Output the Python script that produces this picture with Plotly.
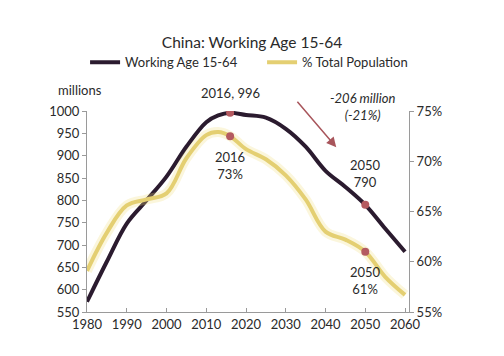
import plotly.graph_objects as go

years_work = [1980, 1985, 1990, 1995, 2000, 2005, 2010, 2013, 2016, 2020, 2025, 2030, 2035, 2040, 2045, 2050, 2055, 2060]
working_age = [573, 663, 748, 800, 853, 920, 975, 990, 996, 991, 985, 960, 920, 866, 830, 790, 737, 685]

years_pct = [1980, 1985, 1990, 1995, 2000, 2005, 2010, 2013, 2016, 2020, 2025, 2030, 2035, 2040, 2045, 2050, 2055, 2060]
pct_total = [59.1, 62.9, 65.6, 66.2, 66.8, 70.3, 72.6, 72.9, 72.5, 71.2, 70.2, 68.6, 66.2, 63.0, 62.2, 61.0, 58.5, 56.7]

highlight_years = [2016, 2050]

title = "China: Working Age 15-64"
name_work = "Working Age 15-64"
name_pct = "% Total Population"

DARK = "#2b1b2f"
YEL = "#e4cf72"
DOT = "#b45a60"
TXT = "#2a2a2a"
AX = "#9a9a9a"
FONT = "Lato"

fig = go.Figure()

# glow behind yellow line
fig.add_trace(go.Scatter(x=years_pct, y=pct_total, yaxis="y2", mode="lines",
                         line=dict(color="rgba(240,222,130,0.28)", width=10, shape="spline", smoothing=1.0),
                         showlegend=False, hoverinfo="skip"))
fig.add_trace(go.Scatter(x=years_pct, y=pct_total, yaxis="y2", mode="lines", name=name_pct,
                         line=dict(color=YEL, width=4, shape="spline", smoothing=1.0)))
fig.add_trace(go.Scatter(x=years_work, y=working_age, mode="lines", name=name_work,
                         line=dict(color=DARK, width=4, shape="spline", smoothing=1.0)))

hw = [working_age[years_work.index(y)] for y in highlight_years]
hp = [pct_total[years_pct.index(y)] for y in highlight_years]
fig.add_trace(go.Scatter(x=highlight_years, y=hw, mode="markers", showlegend=False,
                         marker=dict(color=DOT, size=8)))
fig.add_trace(go.Scatter(x=highlight_years, y=hp, yaxis="y2", mode="markers", showlegend=False,
                         marker=dict(color=DOT, size=8)))

fig.update_layout(
    width=504, height=356,
    margin=dict(l=87, r=95, t=111, b=44),
    paper_bgcolor="white", plot_bgcolor="white",
    font=dict(family=FONT, size=13, color=TXT),
    title=dict(text=title, x=0.5, xref="container", xanchor="center",
               y=1 - 43 / 356, yref="container", yanchor="middle",
               font=dict(family=FONT, size=15.5, color=TXT)),
    legend=dict(orientation="h", x=-0.006, xref="paper", xanchor="left",
                y=(311.7 - 62) / 201, yref="paper", yanchor="middle",
                font=dict(family=FONT, size=13, color=TXT),
                traceorder="reversed", itemwidth=30,
                entrywidth=132, entrywidthmode="pixels"),
    showlegend=True,
    xaxis=dict(range=[1980, 2061], tickvals=list(range(1980, 2061, 10)),
               showgrid=False, zeroline=False, showline=True, linecolor=AX, linewidth=1,
               ticks="inside", ticklen=4, tickcolor=AX, tickfont=dict(size=13, color=TXT)),
    yaxis=dict(range=[550, 1000], dtick=50, showgrid=False, zeroline=False,
               showline=True, linecolor=AX, linewidth=1, ticks="outside", ticklen=4,
               tickcolor=AX, tickfont=dict(size=13, color=TXT)),
    yaxis2=dict(range=[55, 75], dtick=5, ticksuffix="%", overlaying="y", side="right",
                showgrid=False, zeroline=False, showline=True, linecolor=AX, linewidth=1,
                ticks="outside", ticklen=4, tickcolor=AX, tickfont=dict(size=13, color=TXT)),
)

anns = [
    dict(x=2016, y=996, xref="x", yref="y", text="2016, 996", showarrow=False, yshift=20),
    dict(x=2016, y=72.5, xref="x", yref="y2", text="2016<br>73%", showarrow=False, yshift=-29),
    dict(x=2050, y=790, xref="x", yref="y", text="2050<br>790", showarrow=False, yshift=31),
    dict(x=2050, y=61.0, xref="x", yref="y2", text="2050<br>61%", showarrow=False, yshift=-29),
    dict(x=2049.3, y=1000, xref="x", yref="y", text="<i>-206 million<br>(-21%)</i>",
         showarrow=False, yshift=5),
    dict(x=-0.022, y=1.103, xref="paper", yref="paper", xanchor="center", yanchor="middle",
         text="millions", showarrow=False),
    dict(x=2042.7, y=919, ax=2032.6, ay=1024, xref="x", yref="y", axref="x", ayref="y",
         text="", showarrow=True, arrowhead=2, arrowsize=1.3, arrowwidth=1.5, arrowcolor="#a8555b"),
]
for a in anns:
    a.setdefault("font", dict(family=FONT, size=13, color=TXT))
    fig.add_annotation(**a)

fig.write_html("out.html", config={"displayModeBar": False},
               post_script="document.body.style.margin='0';")
